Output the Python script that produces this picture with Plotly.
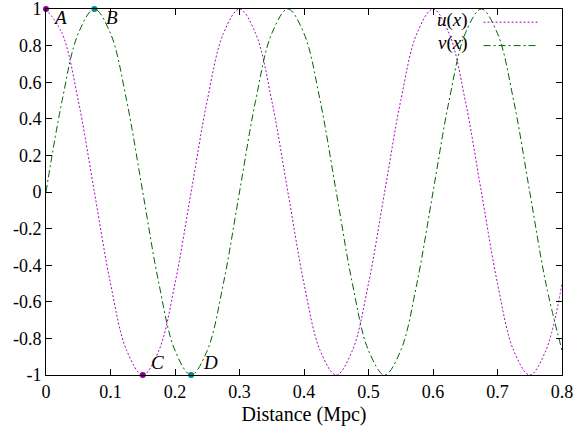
import plotly.graph_objects as go

x_vals = [i * 0.025 for i in range(33)]
u_vals = [1, 0.866, 0.5, 0, -0.5, -0.866, -1, -0.866, -0.5, 0, 0.5, 0.866,
          1, 0.866, 0.5, 0, -0.5, -0.866, -1, -0.866, -0.5, 0, 0.5, 0.866,
          1, 0.866, 0.5, 0, -0.5, -0.866, -1, -0.866, -0.5]
v_vals = [0, 0.5, 0.866, 1, 0.866, 0.5, 0, -0.5, -0.866, -1, -0.866, -0.5,
          0, 0.5, 0.866, 1, 0.866, 0.5, 0, -0.5, -0.866, -1, -0.866, -0.5,
          0, 0.5, 0.866, 1, 0.866, 0.5, 0, -0.5, -0.866]

# labelled points
pt_names = ["A", "B", "C", "D"]
pt_x = [0, 0.075, 0.15, 0.225]
pt_y = [1, 1, -1, -1]
pt_colors = ["#8b008b", "#008b8b", "#8b008b", "#008b8b"]

xtick_vals = [0, 0.1, 0.2, 0.3, 0.4, 0.5, 0.6, 0.7, 0.8]
xtick_text = ["0", "0.1", "0.2", "0.3", "0.4", "0.5", "0.6", "0.7", "0.8"]
ytick_vals = [-1, -0.8, -0.6, -0.4, -0.2, 0, 0.2, 0.4, 0.6, 0.8, 1]
ytick_text = ["-1", "-0.8", "-0.6", "-0.4", "-0.2", "0", "0.2", "0.4", "0.6", "0.8", "1"]

U_COLOR = "#b000c8"
V_COLOR = "#006400"
U_DASH = "2px,2px"
V_DASH = "7px,3px,2px,3px"
FONT = "'Liberation Serif', 'DejaVu Serif', serif"

fig = go.Figure()
fig.add_trace(go.Scatter(x=x_vals, y=u_vals, mode="lines", line_shape="spline",
                         line=dict(color=U_COLOR, width=1, dash=U_DASH), name="u(x)"))
fig.add_trace(go.Scatter(x=x_vals, y=v_vals, mode="lines", line_shape="spline",
                         line=dict(color=V_COLOR, width=1, dash=V_DASH), name="v(x)"))
fig.add_trace(go.Scatter(x=pt_x, y=pt_y, mode="markers", cliponaxis=False,
                         marker=dict(color=pt_colors, size=6)))

# point labels
shifts = [(14, -8), (18, -8), (15, 13), (19, 13)]
for name, px_, py_, (dx, dy) in zip(pt_names, pt_x, pt_y, shifts):
    fig.add_annotation(x=px_, y=py_, text=f"<i>{name}</i>", showarrow=False,
                       xshift=dx, yshift=dy, font=dict(family=FONT, size=19, color="black"))

# gnuplot-style key: text right-aligned, sample line to its right
for i, (lbl, col, dash) in enumerate([("<i>u</i>(<i>x</i>)", U_COLOR, U_DASH),
                                      ("<i>v</i>(<i>x</i>)", V_COLOR, V_DASH)]):
    yp = 0.97 - i * 0.064
    fig.add_annotation(x=0.822, y=yp, xref="paper", yref="paper", text=lbl,
                       showarrow=False, xanchor="right", yanchor="middle",
                       font=dict(family=FONT, size=19, color="black"))
    fig.add_shape(type="line", xref="paper", yref="paper", x0=0.848, x1=0.953,
                  y0=yp - 0.006, y1=yp - 0.006, line=dict(color=col, width=1, dash=dash))

axis_common = dict(showgrid=False, zeroline=False, showline=True, linecolor="black",
                   linewidth=1, mirror="ticks", ticks="inside", ticklen=6,
                   tickcolor="black", automargin=False, ticklabeloverflow="allow",
                   tickfont=dict(family=FONT, size=18, color="black"))

fig.update_layout(
    width=581, height=437,
    margin=dict(l=46, r=19, t=9, b=62),
    plot_bgcolor="white", paper_bgcolor="white",
    showlegend=False,
    font=dict(family=FONT, size=18, color="black"),
    xaxis=dict(range=[0, 0.8], tickvals=xtick_vals, ticktext=xtick_text,
               title=dict(text="Distance (Mpc)", standoff=6,
                          font=dict(family=FONT, size=20)), **axis_common),
    yaxis=dict(range=[-1, 1], tickvals=ytick_vals, ticktext=ytick_text, **axis_common),
)

fig.write_html("out.html", config={"displayModeBar": False},
               post_script="document.body.style.margin='0';")
